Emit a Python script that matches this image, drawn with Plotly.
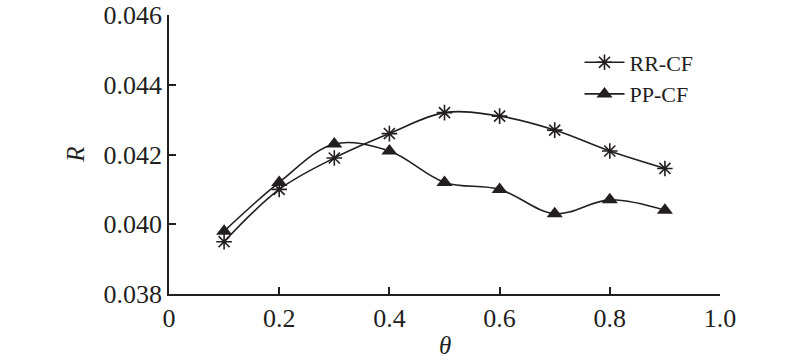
import plotly.graph_objects as go

theta = [0.1, 0.2, 0.3, 0.4, 0.5, 0.6, 0.7, 0.8, 0.9]
rr_cf = [0.0395, 0.0410, 0.0419, 0.0426, 0.0432, 0.0431, 0.0427, 0.0421, 0.0416]
pp_cf = [0.0398, 0.0412, 0.0423, 0.0421, 0.0412, 0.0410, 0.0403, 0.0407, 0.0404]
x_ticks = [0, 0.2, 0.4, 0.6, 0.8, 1.0]
x_tick_labels = ["0", "0.2", "0.4", "0.6", "0.8", "1.0"]
y_ticks = [0.038, 0.040, 0.042, 0.044, 0.046]
y_tick_labels = ["0.038", "0.040", "0.042", "0.044", "0.046"]

font_family = "Liberation Serif"
ink = "#231f20"

fig = go.Figure()
fig.add_trace(go.Scatter(
    x=theta, y=rr_cf, name="RR-CF", mode="lines+markers",
    line=dict(color=ink, width=1.6, shape="spline", smoothing=1.0),
    marker=dict(symbol="asterisk-open", size=13, color=ink,
                line=dict(color=ink, width=1.6)),
))
fig.add_trace(go.Scatter(
    x=theta, y=pp_cf, name="PP-CF", mode="lines+markers",
    line=dict(color=ink, width=1.6, shape="spline", smoothing=1.0),
    marker=dict(symbol="triangle-up", size=14, color=ink),
))

fig.update_layout(
    width=800, height=362,
    margin=dict(l=169, r=80, t=15, b=68),
    paper_bgcolor="white", plot_bgcolor="white",
    font=dict(family=font_family, size=26, color=ink),
    showlegend=True,
    legend=dict(x=0.745, y=0.905, xanchor="left", yanchor="top",
                bgcolor="rgba(0,0,0,0)", font=dict(size=22),
                tracegroupgap=0, itemwidth=40),
    xaxis=dict(range=[0, 1.0], tickvals=x_ticks, ticktext=x_tick_labels,
               showline=True, linecolor=ink, linewidth=1.5,
               ticks="inside", ticklen=7, tickwidth=1.5, tickcolor=ink,
               showgrid=False, zeroline=False, automargin=False),
    yaxis=dict(range=[0.038, 0.046], tickvals=y_ticks, ticktext=y_tick_labels,
               showline=True, linecolor=ink, linewidth=1.5,
               ticks="inside", ticklen=7, tickwidth=1.5, tickcolor=ink,
               showgrid=False, zeroline=False, automargin=False),
    annotations=[
        dict(text="<i>θ</i>", xref="paper", yref="paper", x=0.5, y=-0.183,
             xanchor="center", yanchor="middle", showarrow=False,
             font=dict(size=25)),
        dict(text="<i>R</i>", xref="paper", yref="paper", x=-0.171, y=0.498,
             xanchor="center", yanchor="middle", showarrow=False,
             textangle=-90, font=dict(size=25)),
    ],
)

fig.write_html("out.html", config={"displayModeBar": False},
               post_script="document.body.style.margin='0';")
